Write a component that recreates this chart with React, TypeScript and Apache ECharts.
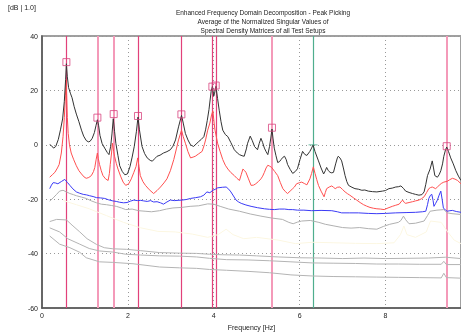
import React, { useEffect, useRef } from "react";
import * as echarts from "echarts";

const titleLines = [
  "Enhanced Frequency Domain Decomposition - Peak Picking",
  "Average of the Normalized Singular Values of",
  "Spectral Density Matrices of all Test Setups",
];
const yUnit = "[dB | 1.0]";
const xName = "Frequency [Hz]";

const sv1: number[][] = [[0.18,0.1],[0.22,-0.3],[0.27,-1.2],[0.32,-0.6],[0.38,2.0],[0.43,5.5],[0.48,9.5],[0.52,16],[0.55,24],[0.568,29.8],[0.59,25],[0.62,21],[0.66,19],[0.70,17.3],[0.75,14],[0.80,11.3],[0.86,8.5],[0.92,5.4],[0.97,3.2],[1.03,1.6],[1.08,1.1],[1.12,1.3],[1.17,2.4],[1.22,4.5],[1.26,7.2],[1.29,9.2],[1.32,7.0],[1.35,3.5],[1.40,0.5],[1.46,-1.2],[1.52,-2.8],[1.56,-3.6],[1.60,-0.5],[1.63,4],[1.66,9.6],[1.69,5],[1.72,0.6],[1.77,-4],[1.81,-7.7],[1.87,-9.8],[1.93,-11],[1.99,-10.7],[2.05,-8],[2.10,-4.5],[2.15,-0.5],[2.20,5],[2.236,10.2],[2.27,5.5],[2.33,-0.6],[2.39,-3.2],[2.45,-4.8],[2.52,-5.7],[2.57,-6.0],[2.63,-5.0],[2.68,-4.2],[2.75,-3.8],[2.83,-3.0],[2.91,-2.5],[2.99,-1.8],[3.05,-0.5],[3.11,1.8],[3.18,6.6],[3.25,10.8],[3.29,8],[3.34,4.2],[3.40,1.8],[3.46,0],[3.53,-0.6],[3.59,0.3],[3.65,1.2],[3.71,2.0],[3.77,3],[3.81,5.5],[3.85,9],[3.89,13],[3.94,19.7],[3.97,21.5],[4.0,17.9],[4.02,19],[4.05,21.5],[4.09,17],[4.13,12.5],[4.17,8.5],[4.21,5.4],[4.27,3.8],[4.33,3],[4.40,0.8],[4.48,-1.8],[4.55,-3],[4.60,-3.6],[4.66,-4.0],[4.71,-4.2],[4.76,-1.5],[4.79,0.6],[4.85,3.2],[4.90,1.5],[4.95,-0.6],[5.02,-1.8],[5.06,0.5],[5.10,2.4],[5.14,0.8],[5.18,-1.2],[5.22,-2.5],[5.26,-3.6],[5.30,-0.6],[5.33,2.5],[5.357,5.8],[5.38,2.5],[5.41,-1.2],[5.45,-4],[5.49,-6.5],[5.53,-6.2],[5.57,-5.4],[5.61,-4.6],[5.65,-4.2],[5.69,-5.5],[5.72,-7.2],[5.78,-9],[5.84,-10.5],[5.90,-9.8],[5.95,-8.8],[6.01,-5.4],[6.07,-2.4],[6.12,-3.5],[6.17,-3.9],[6.24,-2.4],[6.28,-1.2],[6.313,0],[6.36,-2.5],[6.44,-5.9],[6.50,-8.5],[6.56,-10.7],[6.60,-9.5],[6.63,-8.3],[6.67,-9.5],[6.71,-10.1],[6.75,-10.3],[6.79,-10.1],[6.84,-7],[6.88,-4.8],[6.90,-4.2],[6.94,-4.8],[6.98,-5.9],[7.02,-8.5],[7.06,-11.3],[7.10,-13.5],[7.14,-14.9],[7.22,-15.6],[7.29,-16.1],[7.37,-16.3],[7.45,-16.7],[7.52,-16.6],[7.60,-17],[7.70,-17.2],[7.80,-17.3],[7.93,-17],[8.00,-16.8],[8.08,-16.1],[8.16,-15.9],[8.24,-15.5],[8.30,-15.4],[8.36,-15.1],[8.42,-16],[8.47,-17],[8.55,-17.5],[8.63,-17.9],[8.70,-18.2],[8.78,-18.5],[8.85,-18.3],[8.90,-17.3],[8.94,-14.5],[8.98,-11.3],[9.04,-8.9],[9.09,-5.9],[9.12,-8.5],[9.15,-11.3],[9.21,-11.9],[9.25,-11],[9.29,-9.5],[9.33,-7],[9.36,-4.2],[9.40,-1.8],[9.427,-0.8],[9.47,-2.5],[9.52,-4.8],[9.58,-7],[9.64,-9.5],[9.70,-11.5],[9.76,-13.1]];

const sv2: number[][] = [[0.18,-11.9],[0.24,-11],[0.30,-10.1],[0.36,-8.5],[0.40,-7.2],[0.45,-3],[0.49,3],[0.52,10],[0.545,18],[0.56,24],[0.575,18],[0.59,10],[0.61,4.2],[0.64,0],[0.68,-3],[0.74,-5.5],[0.80,-7.7],[0.86,-9.5],[0.92,-10.7],[0.98,-11.8],[1.03,-12.3],[1.09,-12],[1.15,-11.3],[1.20,-9.8],[1.23,-8.3],[1.26,-5.5],[1.29,-3],[1.31,-5],[1.34,-7.2],[1.38,-9.5],[1.42,-11.3],[1.48,-12.5],[1.54,-13.1],[1.57,-10.5],[1.59,-7.2],[1.62,-3],[1.64,0.6],[1.67,-2.5],[1.69,-4.2],[1.73,-6.8],[1.77,-8.9],[1.83,-11.5],[1.89,-13.7],[1.95,-14.9],[2.02,-14.3],[2.08,-12.5],[2.14,-10.1],[2.19,-8],[2.23,-4.8],[2.26,-8],[2.29,-11.3],[2.35,-13.5],[2.41,-14.9],[2.50,-16.5],[2.60,-17.9],[2.68,-16.8],[2.76,-15.5],[2.84,-14],[2.91,-12.5],[2.99,-9.5],[3.07,-5.4],[3.13,-1.5],[3.18,1.8],[3.25,5.4],[3.29,3],[3.34,0.6],[3.40,-2.5],[3.46,-4.8],[3.52,-4.5],[3.57,-4.2],[3.65,-3.3],[3.73,-2.4],[3.78,0],[3.81,1.8],[3.86,5.4],[3.91,8],[3.95,11],[3.98,12.5],[4.01,8],[4.03,5.4],[4.09,0.6],[4.15,-2.5],[4.21,-5.4],[4.27,-7.5],[4.33,-8.9],[4.40,-10.2],[4.48,-11.3],[4.54,-12.3],[4.60,-13.1],[4.64,-11],[4.68,-8.9],[4.72,-9.5],[4.75,-10.1],[4.81,-12.5],[4.87,-14.9],[4.93,-14.8],[4.98,-14.3],[5.04,-13.5],[5.10,-12.5],[5.14,-11.5],[5.18,-10.1],[5.22,-8.5],[5.26,-7.5],[5.30,-7.8],[5.35,-8.3],[5.42,-9.8],[5.49,-11.3],[5.55,-13.8],[5.61,-16.1],[5.67,-17.2],[5.72,-17.9],[5.78,-17],[5.84,-16.1],[5.88,-15.5],[5.93,-14.3],[6.00,-13.9],[6.05,-13.7],[6.11,-14.2],[6.17,-14.7],[6.24,-12.5],[6.28,-10.5],[6.32,-8.1],[6.36,-10.5],[6.40,-12.8],[6.44,-14.9],[6.50,-17],[6.57,-19.1],[6.60,-17.5],[6.63,-16.1],[6.69,-15.5],[6.75,-15.1],[6.79,-15.6],[6.83,-16.1],[6.88,-15.6],[6.94,-15.5],[7.00,-16.4],[7.06,-17.3],[7.12,-18],[7.17,-18.5],[7.25,-19.4],[7.33,-20.3],[7.41,-21.2],[7.49,-22],[7.56,-22.5],[7.64,-23],[7.72,-23.3],[7.80,-23.5],[7.88,-23.6],[7.97,-23.8],[8.06,-23.2],[8.16,-22.6],[8.24,-22.2],[8.32,-21.8],[8.36,-21],[8.40,-20.3],[8.44,-21.2],[8.47,-21.5],[8.55,-21.2],[8.63,-20.9],[8.70,-20.6],[8.78,-20.3],[8.84,-19.8],[8.90,-19.1],[8.96,-17.5],[9.01,-16.1],[9.05,-15.7],[9.09,-15.5],[9.13,-15.8],[9.17,-16.1],[9.21,-15.5],[9.25,-14.9],[9.30,-14.2],[9.36,-13.7],[9.44,-13.4],[9.50,-12.8],[9.56,-12.3],[9.62,-12.6],[9.68,-13.1],[9.76,-14.3]];

const sv3: number[][] = [[0.18,-16.1],[0.22,-14.8],[0.26,-13.9],[0.31,-14],[0.37,-14.3],[0.45,-13.5],[0.53,-12.7],[0.59,-13.8],[0.65,-14.9],[0.72,-16.2],[0.80,-17.3],[0.88,-17.8],[0.96,-18.2],[1.04,-18.4],[1.11,-18.7],[1.19,-19],[1.27,-19.4],[1.36,-19.5],[1.46,-19.7],[1.55,-20.2],[1.65,-20.6],[1.73,-20.8],[1.81,-21.1],[1.90,-21.3],[1.98,-21.2],[2.06,-20.7],[2.14,-20.3],[2.22,-20.5],[2.30,-20.4],[2.37,-20.6],[2.45,-20.8],[2.53,-20.5],[2.60,-21],[2.68,-20.9],[2.76,-21.3],[2.83,-21.8],[2.91,-21],[2.99,-20.3],[3.08,-20.5],[3.17,-20.4],[3.26,-20.3],[3.36,-20.1],[3.46,-19.7],[3.58,-19.4],[3.69,-19.1],[3.77,-18.5],[3.84,-17.3],[3.91,-17.6],[3.98,-16.7],[4.04,-16.3],[4.09,-15.8],[4.20,-15.6],[4.29,-15.5],[4.35,-16.3],[4.40,-17.3],[4.46,-18.8],[4.52,-20.3],[4.58,-21],[4.64,-21.5],[4.75,-22.1],[4.87,-22.6],[5.02,-23.1],[5.18,-23.5],[5.30,-23.7],[5.41,-23.8],[5.53,-23.6],[5.65,-23.6],[5.75,-23.8],[5.84,-23.8],[5.95,-24],[6.10,-24],[6.28,-24.2],[6.50,-24.1],[6.75,-24.2],[6.88,-24.6],[6.98,-25],[7.17,-25],[7.37,-25],[7.60,-25.2],[7.80,-25.3],[8.00,-25.2],[8.24,-25],[8.48,-24.9],[8.70,-24.8],[8.86,-24.6],[8.94,-24.4],[8.98,-22],[9.01,-19.7],[9.05,-18.5],[9.08,-18.2],[9.11,-20.5],[9.13,-22.6],[9.17,-21.5],[9.21,-20.3],[9.25,-18.5],[9.29,-17],[9.32,-20],[9.35,-23.2],[9.40,-24],[9.44,-24.4],[9.50,-24.2],[9.56,-24.1],[9.65,-24.5],[9.76,-24.8]];

const sv4: number[][] = [[0.18,-20.7],[0.26,-19.5],[0.34,-18.2],[0.41,-17],[0.49,-16.7],[0.57,-17.3],[0.65,-17.9],[0.73,-18.3],[0.80,-18.7],[0.92,-19.2],[1.03,-19.7],[1.15,-20.6],[1.27,-21.3],[1.38,-21.8],[1.50,-22],[1.62,-22.3],[1.73,-22.6],[1.85,-23.2],[1.95,-23.8],[2.10,-23.6],[2.25,-24.2],[2.40,-24.4],[2.55,-24.6],[2.74,-24.2],[2.90,-23.6],[3.05,-23.2],[3.25,-23],[3.45,-22.6],[3.65,-22.4],[3.86,-21.7],[4.0,-21.8],[4.15,-22.6],[4.35,-23.6],[4.60,-24.4],[4.85,-25.4],[5.10,-26.2],[5.35,-26.9],[5.60,-27.4],[5.75,-28.5],[5.85,-29],[5.95,-28.4],[6.05,-28],[6.25,-27.8],[6.45,-28.5],[6.60,-29.2],[6.80,-29.8],[7.0,-30.4],[7.2,-30.6],[7.4,-30.4],[7.6,-30.8],[7.8,-31],[7.95,-30],[8.10,-29.2],[8.30,-28.5],[8.36,-27.8],[8.42,-26.2],[8.47,-27.5],[8.55,-29],[8.70,-28.8],[8.90,-28],[8.98,-26],[9.04,-24.4],[9.20,-24],[9.36,-23.8],[9.44,-25],[9.55,-25.3],[9.76,-25.6]];

const sv5: number[][] = [[0.5,-20.5],[0.8,-22],[1.1,-23.5],[1.5,-26],[1.9,-28.5],[2.3,-30.5],[2.7,-31.8],[3.1,-32],[3.5,-32.8],[3.86,-34],[4.1,-33],[4.29,-31],[4.45,-33],[4.7,-34.5],[5.0,-34],[5.5,-35],[5.9,-36.3],[6.3,-35.8],[6.8,-36],[7.3,-36.2],[7.8,-36.3],[8.2,-36],[8.35,-33],[8.43,-29.8],[8.5,-33],[8.7,-34],[8.95,-32],[9.05,-28],[9.3,-28.5],[9.45,-32],[9.6,-35],[9.76,-36.3]];

const sv6: number[][] = [[0.18,-28.2],[0.34,-27.4],[0.57,-27.6],[0.70,-29.5],[0.88,-32],[1.05,-34.5],[1.27,-36.6],[1.45,-37.8],[1.65,-38.2],[1.97,-38.4],[2.3,-38.9],[2.74,-39.6],[3.2,-39.8],[3.6,-39.9],[3.9,-40.2],[4.2,-40.4],[4.6,-40.5],[5.0,-40.8],[5.5,-41.2],[6.0,-41.5],[6.5,-41.6],[7.0,-41.8],[7.5,-41.6],[8.0,-41.8],[8.5,-41.7],[9.0,-41.6],[9.4,-41.3],[9.76,-41.8]];

const sv7: number[][] = [[0.18,-30.5],[0.41,-32],[0.60,-34.5],[0.88,-36.5],[1.10,-38.1],[1.34,-39],[1.65,-39.4],[1.95,-40.2],[2.3,-40.5],[2.74,-40.8],[3.2,-40.9],[3.6,-41.2],[3.9,-41.7],[4.3,-42.2],[4.8,-42.3],[5.3,-42.6],[5.8,-43],[6.3,-43.4],[6.8,-43.5],[7.3,-43.6],[7.8,-43.8],[8.3,-43.8],[8.8,-43.9],[9.3,-43.9],[9.36,-42.8],[9.42,-44],[9.76,-44]];

const sv8: number[][] = [[0.18,-33.5],[0.41,-36.5],[0.65,-37.8],[0.88,-39.5],[1.03,-41.5],[1.34,-43],[1.65,-43.2],[2.12,-43.7],[2.74,-44.9],[3.2,-45.2],[3.6,-45.4],[3.9,-45.8],[4.3,-46.1],[4.8,-46.5],[5.3,-47],[5.8,-47.8],[6.3,-48.2],[6.8,-48.4],[7.3,-48.5],[7.8,-48.6],[8.3,-48.7],[8.8,-48.8],[9.3,-48.9],[9.36,-47.2],[9.42,-48.8],[9.76,-49.0]];

const peakFreqs = [0.568, 1.29, 1.67, 2.236, 3.247, 3.969, 4.046, 5.357, 9.427];
const peakVals = [30.4, 10.0, 11.3, 10.6, 11.2, 21.4, 21.8, 6.3, -0.5];
const peakLight = [false, true, true, false, false, false, false, true, true];
const tealFreq = 6.313;
const tealVal = 0;

const xTicks = [0, 2, 4, 6, 8];
const yTicks = [-60, -40, -20, 0, 20, 40];

export default function App() {
  const ref = useRef<HTMLDivElement>(null);
  useEffect(() => {
    if (!ref.current) return;
    const chart = echarts.init(ref.current, null, { renderer: "svg" });
    const font = "Liberation Sans, Arial, sans-serif";
    const line = (data: number[][], color: string, z = 3) => ({
      type: "line",
      data,
      symbol: "none",
      lineStyle: { color, width: 1 },
      z,
      silent: true,
    });
    const markLines: any[] = peakFreqs.map((f, i) => ({
      xAxis: f,
      lineStyle: {
        color: peakLight[i] ? "#f49ab9" : "#e2417a",
        width: peakLight[i] ? 2 : 1.2,
        type: "solid",
      },
    }));
    markLines.push({
      xAxis: tealFreq,
      lineStyle: { color: "#4fae8e", width: 1.2, type: "solid" },
    });
    chart.setOption({
      animation: false,
      textStyle: { fontFamily: font },
      title: {
        text: titleLines.join("\n"),
        left: 258,
        top: 3,
        textAlign: "center",
        textStyle: { fontSize: 6.5, fontWeight: "normal", color: "#222", lineHeight: 9, fontFamily: font },
      },
      graphic: [
        { type: "text", left: 8, top: 4, style: { text: yUnit, fontSize: 7, fill: "#222", fontFamily: font } },
      ],
      grid: { left: 42, right: 0, top: 36, bottom: 21, show: true, borderColor: "#a0a0a0", borderWidth: 2 },
      xAxis: {
        type: "value",
        min: 0,
        max: 9.76,
        interval: 2,
        name: xName,
        nameLocation: "middle",
        nameGap: 13,
        nameTextStyle: { fontSize: 7, color: "#222", fontFamily: font },
        axisLine: { show: true, onZero: false, lineStyle: { color: "#555", width: 1.5 } },
        axisTick: { show: false },
        axisLabel: {
          fontSize: 7,
          color: "#222",
          margin: 4,
          customValues: xTicks,
        },
        splitLine: { show: true, lineStyle: { color: "#999", type: [1, 3], width: 1 } },
      },
      yAxis: {
        type: "value",
        min: -60,
        max: 40,
        interval: 20,
        axisLine: { show: true, onZero: false, lineStyle: { color: "#555", width: 1.5 } },
        axisTick: { show: false },
        axisLabel: { fontSize: 7, color: "#222", margin: 4, customValues: yTicks },
        splitLine: { show: true, lineStyle: { color: "#999", type: [1, 3], width: 1 } },
      },
      series: [
        line(sv8, "#b4b4b4"),
        line(sv7, "#b4b4b4"),
        line(sv6, "#b4b4b4"),
        line(sv5, "#fcf7e2"),
        line(sv4, "#b0b0b0"),
        line(sv3, "#3b3bf5", 4),
        line(sv2, "#ff5050", 5),
        {
          ...line(sv1, "#333333", 6),
          markLine: {
            silent: true,
            symbol: "none",
            label: { show: false },
            data: markLines,
            z: 2,
          },
        },
        {
          type: "scatter",
          data: peakFreqs.map((f, i) => [f, peakVals[i]]),
          symbol: "rect",
          symbolSize: 7,
          itemStyle: { color: "rgba(0,0,0,0)", borderColor: "#d8457f", borderWidth: 1 },
          z: 7,
          silent: true,
        },
        {
          type: "scatter",
          data: [[tealFreq, tealVal]],
          symbol: "rect",
          symbolSize: [9, 1],
          itemStyle: { color: "#4fae8e" },
          z: 7,
          silent: true,
        },
      ],
    });
    return () => chart.dispose();
  }, []);
  return <div ref={ref} style={{ position: "fixed", left: 0, top: 0, width: 461, height: 336 }} />;
}
